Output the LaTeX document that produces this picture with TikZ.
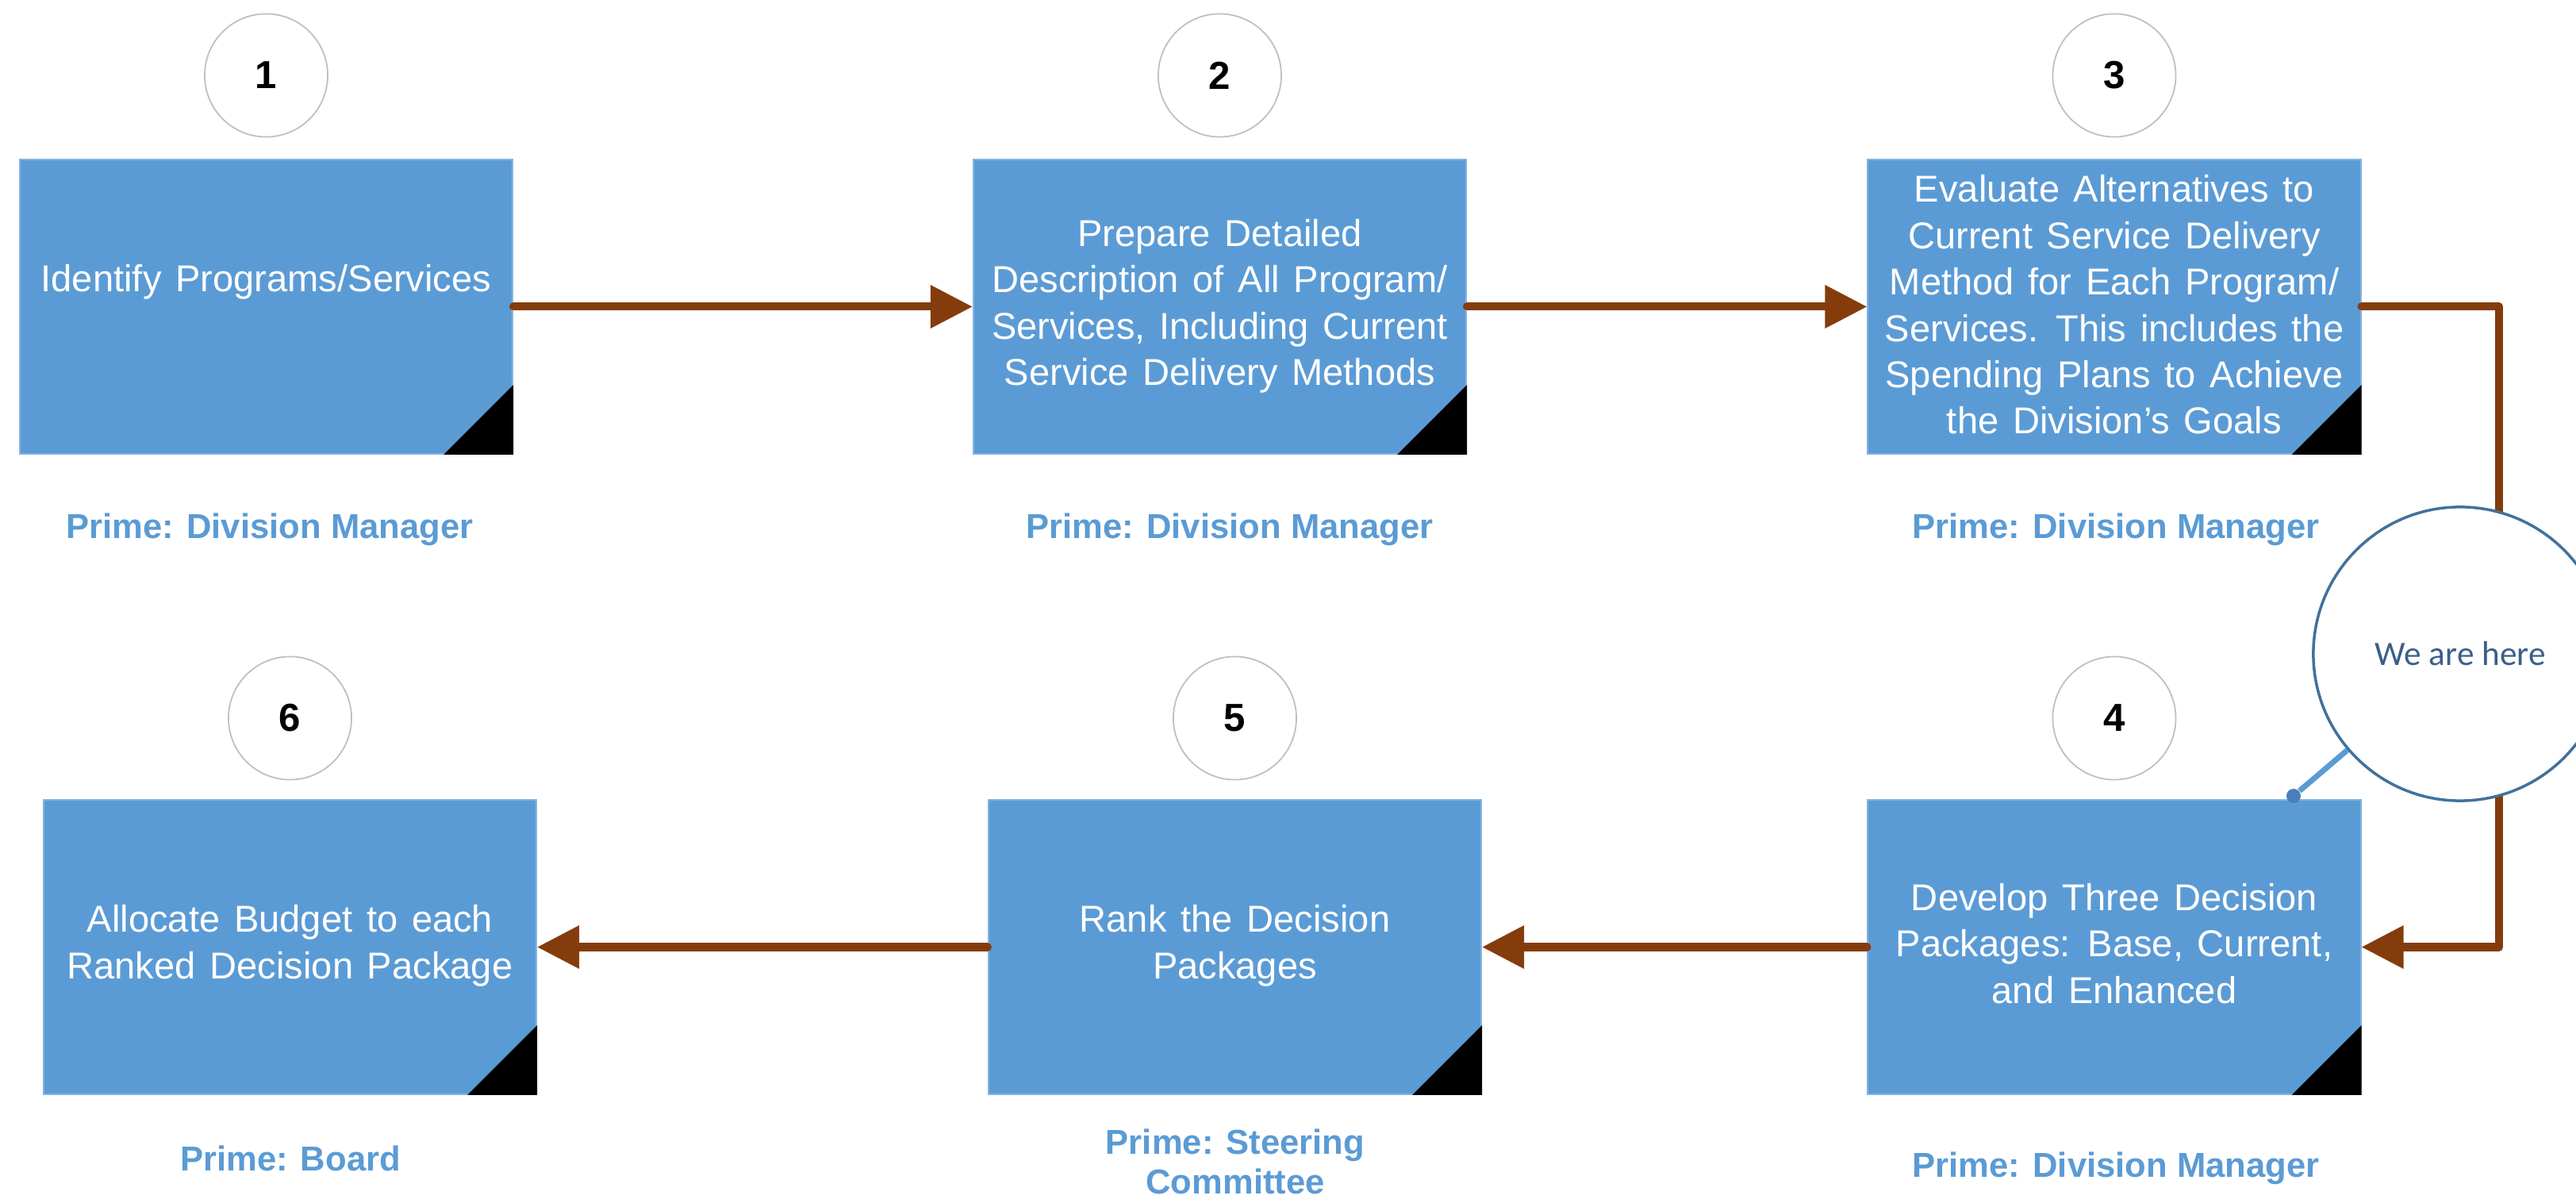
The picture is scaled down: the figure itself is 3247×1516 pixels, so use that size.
\documentclass[tikz,border=0pt]{standalone}
\usepackage{fontspec}
\setmainfont{Liberation Sans}
\newfontfamily\boxfont{Liberation Sans}[WordSpace=1.35]
\newfontfamily\calibfont{Carlito}
\usetikzlibrary{arrows.meta}
\definecolor{boxblue}{HTML}{5B9BD5}
\definecolor{arrowbrown}{HTML}{843C0C}
\definecolor{ringgray}{HTML}{BFBFBF}
\definecolor{calloutedge}{HTML}{41719C}
\definecolor{callouttext}{HTML}{3A5F8A}
\definecolor{dotblue}{HTML}{4A7EBB}
\begin{document}
\begin{tikzpicture}[x=0.01cm,y=-0.01cm,
  stepbox/.style={rectangle, fill=boxblue, draw=boxblue!75!white, line width=0.5pt,
    minimum width=6.21cm, minimum height=3.71cm, inner sep=0pt},
  boxtext/.style={text=white, align=center, inner sep=0pt,
    font=\boxfont\fontsize{13.4}{16.6}\selectfont},
  numring/.style={circle, draw=ringgray, line width=0.5pt, fill=white,
    minimum size=1.55cm, inner sep=0pt, font=\fontsize{14}{16}\selectfont\bfseries},
  prime/.style={text=boxblue, align=center, inner sep=0pt,
    font=\fontsize{12.4}{14.2}\selectfont\bfseries},
  flow/.style={draw=arrowbrown, line width=0.1cm, line cap=round, line join=round,
    -{Triangle[length=0.53cm,width=0.52cm]}},
  cornertri/.style={fill=black},
  callout/.style={circle, draw=calloutedge, line width=0.035cm, fill=white,
    minimum size=3.7cm, inner sep=0pt},
  callouttxt/.style={text=callouttext, inner sep=0pt, font=\calibfont\fontsize{12.3}{14}\selectfont},
  pointer/.style={draw=boxblue, line width=0.07cm},
  pointdot/.style={circle, fill=dotblue, minimum size=0.18cm, inner sep=0pt}
]
\useasboundingbox (0,0) rectangle (3247,1516);
\fill[white] (0,0) rectangle (3247,1516);

% boxes
\node[stepbox] (b1) at (335.5,386.5) {};
\node[stepbox] (b2) at (1537.5,386.5) {};
\node[stepbox] (b3) at (2665,386.5) {};
\node[stepbox] (b4) at (2665,1193.5) {};
\node[stepbox] (b5) at (1556.5,1193.5) {};
\node[stepbox] (b6) at (365.5,1193.5) {};

% corner triangles
\foreach \b in {b1,b2,b3,b4,b5,b6}{
  \fill[cornertri] (\b.south east) -- ++(-88,0) -- ++(88,-88) -- cycle;
}

% box texts
\node[boxtext] (t1) at (335.5,355) {Identify Programs/Services};
\node[boxtext] (t2) at (1537.5,386) {Prepare Detailed\\Description of All Program/\\Services, Including Current\\Service Delivery Methods};
\node[boxtext] (t3) at (2665,384) {Evaluate Alternatives to\\Current Service Delivery\\Method for Each Program/\\Services. This includes the\\Spending Plans to Achieve\\the Division’s Goals};
\node[boxtext] (t4) at (2665,1189) {Develop Three Decision\\Packages: Base, Current,\\and Enhanced};
\node[boxtext] (t5) at (1556.5,1192) {Rank the Decision\\Packages};
\node[boxtext] (t6) at (365.5,1192) {Allocate Budget to each\\Ranked Decision Package};

% number rings
\node[numring] (n1) at (335.5,95) {1};
\node[numring] (n2) at (1537.5,95) {2};
\node[numring] (n3) at (2665,95) {3};
\node[numring] (n4) at (2665,905) {4};
\node[numring] (n5) at (1556.5,905) {5};
\node[numring] (n6) at (365.5,905) {6};

% prime labels
\node[prime] (p1) at (340,667) {Prime: Division Manager};
\node[prime] (p2) at (1550,667) {Prime: Division Manager};
\node[prime] (p3) at (2667,667) {Prime: Division Manager};
\node[prime] (p4) at (2667,1472) {Prime: Division Manager};
\node[prime] (p5) at (1557,1464) {Prime: Steering\\Committee};
\node[prime] (p6) at (366,1460) {Prime: Board};

% connectors
\coordinate (rt) at (3150,800);
\draw[flow] (b1.east) -- (b2.west);
\draw[flow] (b2.east) -- (b3.west);
\draw[flow] (b3.east) -- (b3.east -| rt) -- (b4.east -| rt) -- (b4.east);
\draw[flow] (b4.west) -- (b5.east);
\draw[flow] (b5.west) -- (b6.east);

% callout
\begin{scope}
  \clip (0,0) rectangle (3247,1516);
  \node[callout] (we) at (3101,824) {};
\end{scope}
\node[callouttxt] (wet) at (3101,824) {We are here};
\node[pointdot] (pd) at (2891,1003) {};
\draw[pointer] (pd) -- (we);
\end{tikzpicture}
\end{document}
